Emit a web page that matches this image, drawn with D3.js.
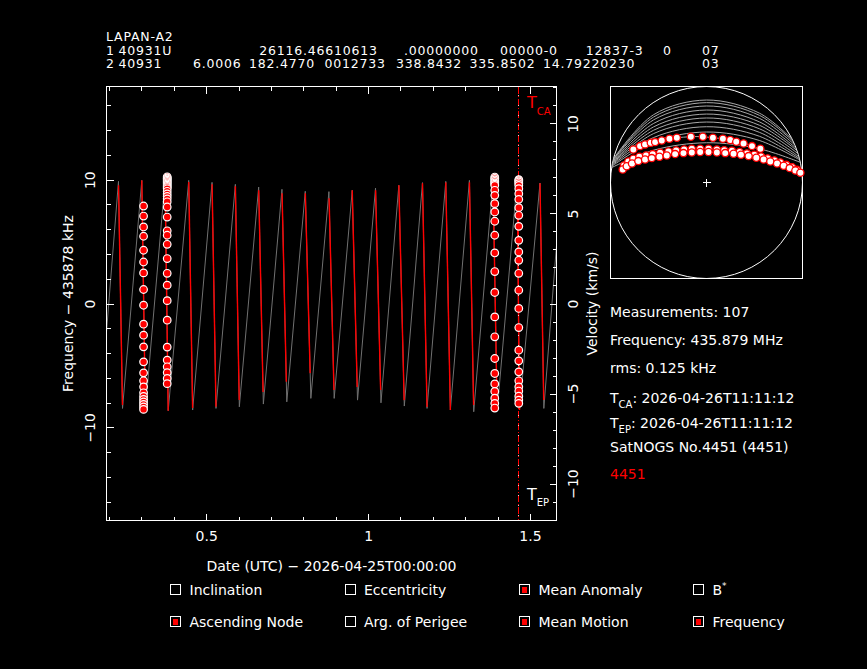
<!DOCTYPE html>
<html>
<head>
<meta charset="utf-8">
<script src="https://cdn.jsdelivr.net/npm/d3@7"></script>
<style>
  body { margin: 0; background: #000; }
  svg { display: block; background: #000; color: #fff; }
  svg text { font-family: "DejaVu Sans", sans-serif; fill: #fff; }
</style>
</head>
<body>
<svg id="chart" width="867" height="669"></svg>
<script>
// ---- header (TLE) ----
const satName = "LAPAN-A2";
const tleLine1 = "1 40931U 26116.46610613 .00000000 00000-0 12837-3 0 07";
const tleLine2 = "2 40931 6.0006 182.4770 0012733 338.8432 335.8502 14.79220230 03";

// ---- time axis (days since 2026-04-25T00:00:00) ----
const tRange = [0.192, 1.582];
const freqRange = [-17.52, 17.52];           // kHz offset from 435878 kHz
const refFreqKHz = 435878;
const lightSpeedKms = 299792.458;

// ---- modelled Doppler curve, one entry per pass ----
const curveStart = [0.192, -2.29];
const curveEnd = [1.582, 4.70];
const passPeakT = [0.229, 0.301, 0.373, 0.446, 0.518, 0.590, 0.662, 0.734, 0.806, 0.879,
                   0.951, 1.023, 1.095, 1.168, 1.240, 1.313, 1.386, 1.4606, 1.531];
const passPeakF = [9.86, 9.94, 9.98, 9.94, 9.78, 9.62, 9.40, 9.22, 9.06, 9.03,
                   9.14, 9.32, 9.54, 9.76, 9.86, 9.94, 9.98, 9.98, 9.73];
const passTroughT = [0.2415, 0.3120, 0.3826, 0.4581, 0.5302, 0.6023, 0.6765, 0.7489, 0.8232, 0.8953,
                     0.9674, 1.0398, 1.1119, 1.1821, 1.2542, 1.3263, 1.3987, 1.4677, 1.5429];
const passTroughF = [-8.47, -8.60, -8.66, -8.60, -8.47, -8.34, -8.12, -7.94, -7.66, -7.66,
                     -7.80, -8.02, -8.28, -8.47, -8.60, -8.74, -8.69, -8.60, -8.47];
// part of each pass drawn red (satellite above horizon)
const visibleTopF = [9.54, 9.94, 9.98, 9.81, 9.62, 9.46, 9.14, 8.90, 8.90, 8.49,
                     9.14, 9.14, 9.54, 9.70, 9.78, 9.78, 9.98, 9.98, 9.70];
const visibleBottomF = [-8.20, -8.60, -8.66, -8.44, -8.34, -7.80, -7.15, -6.32, -5.62, -6.99,
                        -6.75, -6.99, -7.80, -8.36, -8.60, -8.20, -8.69, -8.60, -7.80];

// ---- measurements (kHz), four observed passes ----
const measTimes = [0.3065, 0.3795, 1.3913, 1.4655];
const meas1 = [7.87, 7.06, 6.18, 5.43, 4.30, 3.35, 2.47, 1.13, -0.14, -1.67, -2.56, -3.50,
               -4.71, -5.60, -6.24, -6.73, -7.21, -7.50, -7.74, -7.95, -8.15, -8.35, -8.55];
const meas2 = [10.23, 10.14, 10.06, 9.96, 9.86, 9.76, 9.66, 9.56, 9.46, 9.36, 9.26, 9.06,
               8.85, 8.65, 8.45, 8.21, 7.79, 6.98, 5.87, 5.51, 4.78, 3.63, 2.44, 1.48, 0.23,
               -1.35, -3.52, -4.57, -5.11, -5.58, -6.05, -6.47];
const meas3 = [10.21, 10.10, 9.98, 9.86, 9.74, 9.64, 9.54, 9.14, 8.73, 8.06, 7.39, 6.64, 5.51,
               4.08, 2.58, 0.89, -1.08, -2.69, -4.44, -5.65, -6.49, -7.10, -7.64, -8.06, -8.44];
const meas4 = [10.0, 9.92, 9.81, 9.68, 9.54, 9.27, 8.87, 8.41, 7.74, 7.12, 6.23, 5.10, 4.16,
               3.49, 2.44, 1.07, -0.40, -1.94, -3.77, -4.63, -5.52, -6.24, -6.73, -7.07,
               -7.48, -7.80, -8.06];

const tcaT = 1.4661;   // 2026-04-26T11:11:12
const tepT = 1.4661;

// ---- sky plot (east, north) in horizon radii ----
const skyGrayTracks = [
  [[-0.968, 0.25], [-0.55, 0.707], [0, 0.859], [0.55, 0.723], [0.893, 0.45]],
  [[-0.970, 0.24], [-0.55, 0.683], [0, 0.832], [0.55, 0.700], [0.905, 0.425]],
  [[-0.972, 0.235], [-0.55, 0.653], [0, 0.797], [0.55, 0.669], [0.920, 0.39]],
  [[-0.975, 0.22], [-0.55, 0.616], [0, 0.755], [0.55, 0.632], [0.935, 0.355]],
  [[-0.977, 0.21], [-0.55, 0.580], [0, 0.713], [0.55, 0.597], [0.945, 0.33]],
  [[-0.979, 0.20], [-0.55, 0.545], [0, 0.672], [0.55, 0.560], [0.955, 0.30]],
  [[-0.981, 0.19], [-0.55, 0.510], [0, 0.630], [0.55, 0.523], [0.962, 0.27]],
  [[-0.983, 0.18], [-0.55, 0.469], [0, 0.581], [0.55, 0.482], [0.968, 0.25]],
  [[-0.985, 0.17], [-0.55, 0.425], [0, 0.526], [0.55, 0.438], [0.972, 0.235]],
  [[-0.988, 0.155], [-0.55, 0.337], [0, 0.414], [0.55, 0.351], [0.978, 0.21]]
];
const skyPassUpper = [[-0.762, 0.344], [-0.692, 0.379], [-0.640, 0.397], [-0.580, 0.414],
  [-0.535, 0.421], [-0.466, 0.438], [-0.386, 0.456], [-0.309, 0.466], [-0.163, 0.477],
  [-0.038, 0.477], [0.067, 0.466], [0.171, 0.456], [0.247, 0.442], [0.310, 0.425],
  [0.386, 0.407], [0.474, 0.379], [0.561, 0.352]];
const skyPassMid = [[-0.859, 0.177], [-0.814, 0.219], [-0.762, 0.247], [-0.699, 0.268],
  [-0.629, 0.282], [-0.560, 0.296], [-0.483, 0.310], [-0.396, 0.324], [-0.316, 0.334],
  [-0.233, 0.344], [-0.153, 0.351], [-0.066, 0.351], [0.021, 0.351], [0.108, 0.344],
  [0.185, 0.337], [0.265, 0.331], [0.345, 0.317], [0.421, 0.303], [0.498, 0.289],
  [0.568, 0.271], [0.637, 0.251], [0.707, 0.230], [0.769, 0.209], [0.832, 0.184],
  [0.891, 0.160], [0.943, 0.132]];
const skyPassLow = [[-0.873, 0.136], [-0.831, 0.170], [-0.776, 0.198], [-0.710, 0.223],
  [-0.640, 0.240], [-0.570, 0.254], [-0.490, 0.268], [-0.414, 0.282], [-0.327, 0.296],
  [-0.240, 0.306], [-0.153, 0.313], [-0.066, 0.317], [0.021, 0.317], [0.108, 0.313],
  [0.195, 0.306], [0.282, 0.299], [0.359, 0.289], [0.439, 0.275], [0.519, 0.258],
  [0.595, 0.240], [0.665, 0.219], [0.735, 0.198], [0.804, 0.174], [0.867, 0.150],
  [0.926, 0.125], [0.978, 0.101]];

// ---- info panel and legend ----
const infoMeasurements = "Measurements: 107";
const infoFrequency = "Frequency: 435.879 MHz";
const infoRms = "rms: 0.125 kHz";
const infoTca = "2026-04-26T11:11:12";
const infoTep = "2026-04-26T11:11:12";
const infoObs = "SatNOGS No.4451 (4451)";
const infoId = "4451";
const legendLabels = ["Inclination", "Eccentricity", "Mean Anomaly", "B",
                      "Ascending Node", "Arg. of Perigee", "Mean Motion", "Frequency"];
const legendChecked = [false, false, true, false, true, false, true, true];

// =====================================================================
const svg = d3.select("#chart");
const M = { left: 106.5, right: 556.5, top: 86.5, bottom: 520.5 };

const x = d3.scaleLinear().domain(tRange).range([M.left, M.right]);
const y = d3.scaleLinear().domain(freqRange).range([M.bottom, M.top]);
const kmsPerKHz = lightSpeedKms / refFreqKHz;
const yv = d3.scaleLinear().domain(freqRange.map(d => d * kmsPerKHz)).range([M.bottom, M.top]);

// header
const hdrStyle = t => t.style("font-size", "12.5px").style("letter-spacing", "0.8px");
hdrStyle(svg.append("text").attr("x", 106).attr("y", 41)).text(satName);
const tleX1 = [106, 118.4, 259.2, 404, 500, 585.7, 663, 702];
const tleX2 = [106, 118.4, 193, 249, 324.5, 396, 469.4, 542.9, 702];
[[tleLine1, tleX1, 54.5], [tleLine2, tleX2, 68]].forEach(([line, xs, yy]) => {
  const t = hdrStyle(svg.append("text").attr("y", yy));
  line.split(" ").forEach((tok, i) => t.append("tspan").attr("x", xs[i]).text(tok));
});

// doppler curve
const line = d3.line().x(d => x(d[0])).y(d => y(d[1]));
const curvePts = [curveStart];
passPeakT.forEach((t, i) => {
  curvePts.push([t, passPeakF[i]]);
  curvePts.push([passTroughT[i], passTroughF[i]]);
});
curvePts.push(curveEnd);

const plot = svg.append("g");
plot.append("path").datum(curvePts).attr("d", line)
  .attr("fill", "none").attr("stroke", "#707070").attr("stroke-width", 1);

// red (visible) part on each descending branch
const tOnDrop = (i, f) => passPeakT[i] + (passPeakF[i] - f) / (passPeakF[i] - passTroughF[i]) * (passTroughT[i] - passPeakT[i]);
plot.selectAll(".vis").data(passPeakT.map((t, i) => i)).join("path")
  .attr("class", "vis")
  .attr("d", i => line([[tOnDrop(i, visibleTopF[i]), visibleTopF[i]], [tOnDrop(i, visibleBottomF[i]), visibleBottomF[i]]]))
  .attr("fill", "none").attr("stroke", "#ff0000").attr("stroke-width", 1.4);

// TCA / TEP markers
plot.append("line").attr("x1", x(tcaT)).attr("x2", x(tcaT)).attr("y1", M.top).attr("y2", M.bottom)
  .attr("stroke", "#ff0000").attr("stroke-dasharray", "7,2,1,2").attr("shape-rendering", "crispEdges");
plot.append("line").attr("x1", x(tepT)).attr("x2", x(tepT)).attr("y1", M.top).attr("y2", M.bottom)
  .attr("stroke", "#ffffff").attr("stroke-dasharray", "1,9").attr("stroke-dashoffset", -8)
  .attr("opacity", 0.8).attr("shape-rendering", "crispEdges");

const tcaLbl = svg.append("text").attr("x", x(tcaT) + 8).attr("y", 108).style("font-size", "16px").style("fill", "#ff0000");
tcaLbl.append("tspan").text("T");
tcaLbl.append("tspan").attr("dy", 7).style("font-size", "10px").text("CA");
const tepLbl = svg.append("text").attr("x", x(tepT) + 8).attr("y", 500).style("font-size", "16px");
tepLbl.append("tspan").text("T");
tepLbl.append("tspan").attr("dy", 6).style("font-size", "10px").text("EP");

// measurement points
const measPts = [];
[meas1, meas2, meas3, meas4].forEach((arr, k) => arr.forEach(f => measPts.push([measTimes[k], f])));
plot.selectAll(".meas").data(measPts).join("circle")
  .attr("class", "meas")
  .attr("cx", d => x(d[0])).attr("cy", d => y(d[1])).attr("r", 3.8)
  .attr("fill", "#ff0000").attr("stroke", "#ffffff").attr("stroke-width", 1.2);

// frame + axes (PGPLOT style inward ticks)
svg.append("rect").attr("x", M.left).attr("y", M.top)
  .attr("width", M.right - M.left).attr("height", M.bottom - M.top)
  .attr("fill", "none").attr("stroke", "#fff").attr("shape-rendering", "crispEdges");

function addAxis(axis, tx, ty) {
  const g = svg.append("g").attr("transform", `translate(${tx},${ty})`)
    .attr("font-family", null).attr("font-size", null).call(axis);
  g.select(".domain").remove();
  g.selectAll("line").attr("stroke", "#fff").attr("shape-rendering", "crispEdges");
  return g;
}
const fmt = d3.format("~g");
addAxis(d3.axisBottom(x).tickValues(x.ticks(14)).tickSize(-4).tickFormat(""), 0, M.bottom);
addAxis(d3.axisTop(x).tickValues(x.ticks(14)).tickSize(-4).tickFormat(""), 0, M.top);
addAxis(d3.axisTop(x).tickValues(x.ticks(3)).tickSize(-7).tickFormat(""), 0, M.top);
const xb = addAxis(d3.axisBottom(x).tickValues(x.ticks(3)).tickSize(-7).tickFormat(fmt), 0, M.bottom);
xb.selectAll("text").attr("y", 20).attr("dy", 0).style("font-size", "14px");

addAxis(d3.axisLeft(y).tickValues(y.ticks(18)).tickSize(-4).tickFormat(""), M.left, 0);
const yl = addAxis(d3.axisLeft(y).tickValues(y.ticks(3)).tickSize(-7).tickFormat(fmt), M.left, 0);
yl.selectAll("text").attr("transform", "rotate(-90)").attr("x", 0).attr("y", -12)
  .attr("dy", 0).attr("text-anchor", "middle").style("font-size", "14px");

addAxis(d3.axisRight(yv).tickValues(yv.ticks(24)).tickSize(-3.5).tickFormat(""), M.right, 0);
const yr = addAxis(d3.axisRight(yv).tickValues(yv.ticks(5)).tickSize(-7).tickFormat(fmt), M.right, 0);
yr.selectAll("text").attr("transform", "rotate(-90)").attr("x", 0).attr("y", 21)
  .attr("dy", 0).attr("text-anchor", "middle").style("font-size", "14px");

svg.append("text").attr("x", (M.left + M.right) / 2).attr("y", 571).attr("text-anchor", "middle")
  .style("font-size", "14px").text("Date (UTC) \u2212 2026-04-25T00:00:00");
svg.append("text").attr("transform", `translate(73,${(M.top + M.bottom) / 2}) rotate(-90)`)
  .attr("text-anchor", "middle").style("font-size", "14px").text("Frequency \u2212 435878 kHz");
svg.append("text").attr("transform", `translate(597,${(M.top + M.bottom) / 2}) rotate(-90)`)
  .attr("text-anchor", "middle").style("font-size", "14px").text("Velocity (km/s)");

// ---- sky plot ----
const sx = d3.scaleLinear().domain([-1, 1]).range([610.5, 802.5]);
const sy = d3.scaleLinear().domain([-1, 1]).range([278.5, 86.5]);
const sky = svg.append("g");
sky.append("rect").attr("x", sx(-1)).attr("y", sy(1)).attr("width", sx(1) - sx(-1)).attr("height", sy(-1) - sy(1))
  .attr("fill", "none").attr("stroke", "#fff").attr("shape-rendering", "crispEdges");
sky.append("circle").attr("cx", sx(0)).attr("cy", sy(0)).attr("r", sx(1) - sx(0))
  .attr("fill", "none").attr("stroke", "#fff");
const skyLine = d3.line().x(d => sx(d[0])).y(d => sy(d[1])).curve(d3.curveCatmullRom);
sky.selectAll(".trk").data(skyGrayTracks.concat([skyPassUpper, skyPassMid, skyPassLow])).join("path")
  .attr("class", "trk").attr("d", skyLine)
  .attr("fill", "none").attr("stroke", "#a8a8a8").attr("stroke-width", 1);
sky.append("path").attr("d", `M${sx(0) - 4},${sy(0)}H${sx(0) + 4}M${sx(0)},${sy(0) - 4}V${sy(0) + 4}`)
  .attr("stroke", "#fff").attr("shape-rendering", "crispEdges");
sky.selectAll(".spt").data(skyPassUpper.concat(skyPassMid, skyPassLow)).join("circle")
  .attr("class", "spt").attr("cx", d => sx(d[0])).attr("cy", d => sy(d[1])).attr("r", 3.6)
  .attr("fill", "#fff").attr("stroke", "#ff0000").attr("stroke-width", 1.3);

// ---- info panel ----
const info = svg.append("g").style("font-size", "14px");
info.append("text").attr("x", 610).attr("y", 316.7).text(infoMeasurements);
info.append("text").attr("x", 610).attr("y", 345).text(infoFrequency);
info.append("text").attr("x", 610).attr("y", 373.3).text(infoRms);
[[infoTca, "CA", 403.3], [infoTep, "EP", 427.7]].forEach(([val, sub, yy]) => {
  const t = info.append("text").attr("x", 610).attr("y", yy);
  t.append("tspan").text("T");
  t.append("tspan").attr("dy", 5).style("font-size", "10px").text(sub);
  t.append("tspan").attr("dy", -5).text(": " + val);
});
info.append("text").attr("x", 610).attr("y", 451.7).text(infoObs);
info.append("text").attr("x", 610).attr("y", 479).style("fill", "#ff0000").text(infoId);

// ---- legend check boxes ----
const boxX = [170, 344.5, 519, 693];
const rowY = [590, 622];
const leg = svg.append("g").selectAll("g").data(legendLabels).join("g")
  .attr("transform", (d, i) => `translate(${boxX[i % 4]},${rowY[Math.floor(i / 4)]})`);
leg.append("rect").attr("x", 0.5).attr("y", -5.5).attr("width", 10).attr("height", 10)
  .attr("fill", "none").attr("stroke", "#fff").attr("shape-rendering", "crispEdges");
leg.filter((d, i) => legendChecked[i]).append("rect")
  .attr("x", 3).attr("y", -3).attr("width", 5).attr("height", 6).attr("fill", "#ff0000");
const legText = leg.append("text").attr("x", 19.5).attr("y", 5).style("font-size", "14px");
legText.append("tspan").text(d => d);
legText.filter(d => d === "B").append("tspan").attr("dy", -6).style("font-size", "9px").text("*");
</script>
</body>
</html>
